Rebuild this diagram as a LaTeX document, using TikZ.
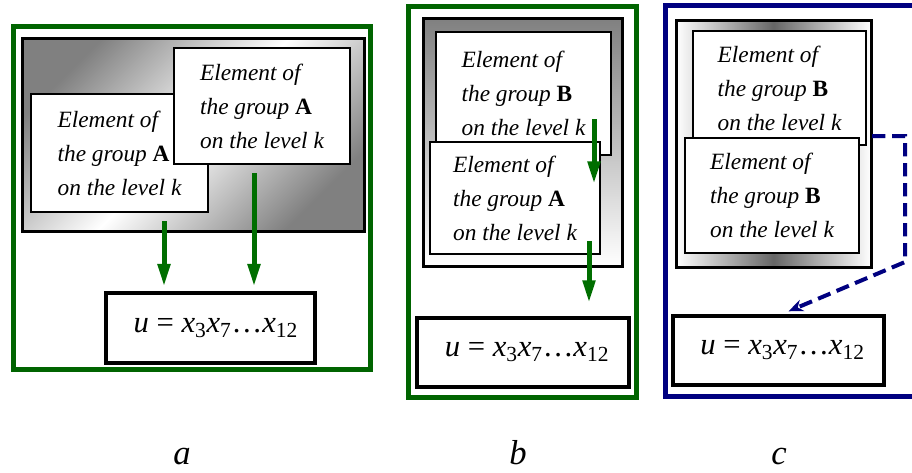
\documentclass[tikz,border=0pt]{standalone}
\usepackage{fontspec}
\setmainfont{Liberation Serif}
\usetikzlibrary{arrows.meta, fit}

\definecolor{framegreen}{RGB}{0,100,0}
\definecolor{flowgreen}{RGB}{0,110,0}
\definecolor{navyblue}{RGB}{0,0,128}

\newcommand{\elemtext}[1]{Element of\\the group \textup{\textbf{#1}}\\on the level k}
\newcommand{\wordu}{\textit{u} = \textit{x}\textsubscript{3}\textit{x}\textsubscript{7}\ldots\textit{x}\textsubscript{12}}

\begin{document}
\begin{tikzpicture}[x=0.75pt, y=-0.75pt,
    grpframe/.style={draw=#1, line width=3.75pt, inner sep=0pt},
    gradbox/.style={draw=black, line width=2.25pt, inner sep=0pt},
    elem/.style={draw=black, fill=white, line width=1.5pt, inner sep=0pt},
    elemtxt/.style={align=left, inner sep=0pt, font=\fontsize{17.5}{25.5}\selectfont\itshape},
    wordbox/.style={draw=black, fill=white, line width=2.6pt, inner sep=0pt},
    wordtxt/.style={inner sep=0pt, font=\fontsize{23}{28}\selectfont},
    flow/.style={-{Triangle[length=17pt, width=9pt]}, draw=flowgreen, line width=3.75pt},
    jump/.style={-{Stealth[length=11pt, width=9pt]}, draw=navyblue, line width=3pt,
        dash pattern=on 10pt off 5pt},
    tag/.style={font=\fontsize{26}{30}\selectfont\itshape, anchor=base}
]
\useasboundingbox (0,0) rectangle (912,472);

% (a) two elements of group A
\node[grpframe=framegreen, fit={(13,26) (370,369)}] (fa) {};
\node[gradbox, top color=gray, bottom color=gray, middle color=white, shading angle=45,
    fit={(22,38) (364,231)}] (ga) {};
\node[elem, fit={(31,94) (208,212)}] (a1) {};
\node[elemtxt] (a1t) at (a1) {\elemtext{A}};
\node[elem, fit={(174,48) (350,164)}] (a2) {};
\node[elemtxt] (a2t) at (a2) {\elemtext{A}};
\node[wordbox, fit={(106,293) (315,363)}] (ua) {};
\node[wordtxt] (uat) at ([xshift=4pt]ua) {\wordu};
\coordinate (a1out) at ([shift={(-45,8)}]a1.south east);
\coordinate (a2out) at ([shift={(81,8)}]a2.south west);
\draw[flow, shorten >=3.5pt] (a1out) -- (a1out |- ua.north);
\draw[flow, shorten >=3.5pt] (a2out) -- (a2out |- ua.north);

% (b) element of B above element of A
\node[grpframe=framegreen, fit={(408,6) (636,397)}] (fb) {};
\node[gradbox, top color=gray, bottom color=white, fit={(423,18) (622,266)}] (gb) {};
\node[elem, fit={(436,32) (611,155)}] (b1) {};
\node[elemtxt] (b1t) at (b1) {\elemtext{B}};
\node[elem, fit={(430,142) (600,254)}] (b2) {};
\node[elemtxt] (b2t) at (b2) {\elemtext{A}};
\node[wordbox, fit={(417,318) (629,387)}] (ub) {};
\node[wordtxt] (ubt) at ([xshift=3pt]ub) {\wordu};
\coordinate (b1out) at ([shift={(-18,-37)}]b1.south east);
\coordinate (b2out) at ([shift={(-12,-14)}]b2.south east);
\draw[flow] (b1out) -- ++(0,65);
\draw[flow, shorten >=10pt] (b2out) -- (b2out |- ub.north);

% (c) two elements of group B
\begin{scope}
\clip (0,0) rectangle (912,472);
\node[grpframe=navyblue, fit={(665,5.5) (940,396)}] (fc) {};
\end{scope}
\node[gradbox, left color=white, right color=white, middle color=black!60,
    fit={(676,20) (871,267)}] (gc) {};
\node[elem, fit={(693,31) (866,145)}] (c1) {};
\node[elemtxt] (c1t) at (c1) {\elemtext{B}};
\node[elem, fit={(685,138) (859,253)}] (c2) {};
\node[elemtxt] (c2t) at (c2) {\elemtext{B}};
\node[wordbox, fit={(673,316) (884,385)}] (uc) {};
\node[wordtxt] (uct) at ([xshift=3pt]uc) {\wordu};
\coordinate (c1out) at ([shift={(5,-10)}]c1.south east);
\coordinate (cturn) at (905,262);
\draw[jump] (c1out) -| (cturn) -- ([shift={(10,-3)}]uc.north);

% panel letters
\node[tag] (la) at (182,464) {a};
\node[tag] (lb) at (518,464) {b};
\node[tag] (lc) at (779,464) {c};
\end{tikzpicture}
\end{document}
